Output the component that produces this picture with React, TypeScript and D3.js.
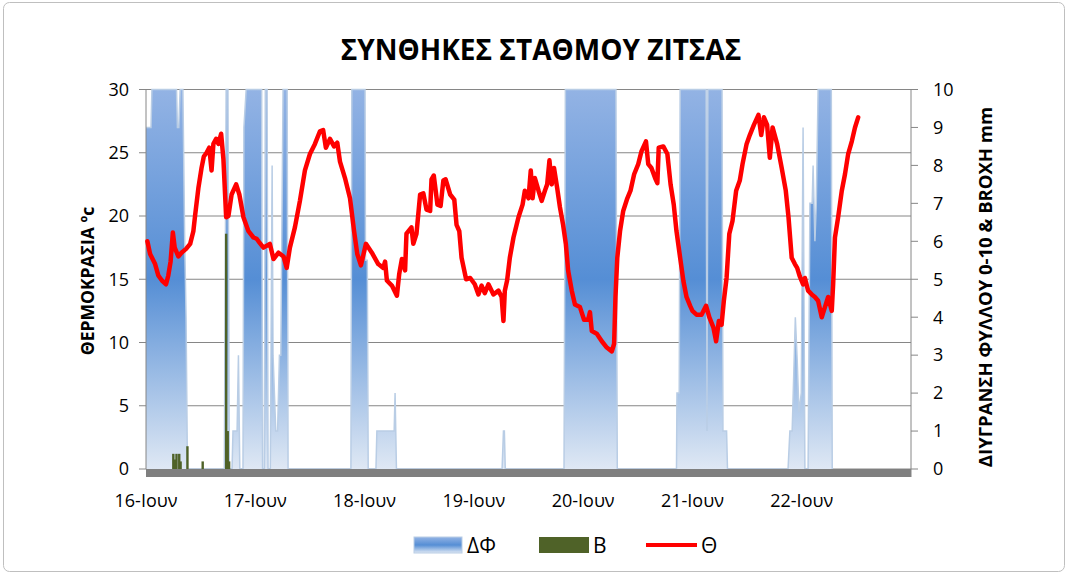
import * as d3 from "d3";

const W = 1068;
const H = 574;
const PLOT = { left: 146, right: 911, top: 89.5, bottom: 469 };
const FONT = "'Open Sans', sans-serif";

const START = new Date(2013, 5, 16);

const title = "ΣΥΝΘΗΚΕΣ ΣΤΑΘΜΟΥ ΖΙΤΣΑΣ";
const leftTitle = "ΘΕΡΜΟΚΡΑΣΙΑ ºc";
const rightTitle = "ΔΙΥΓΡΑΝΣΗ ΦΥΛΛΟΥ 0-10 & BROXH mm";
const dayLabels = ["16-Ιουν", "17-Ιουν", "18-Ιουν", "19-Ιουν", "20-Ιουν", "21-Ιουν", "22-Ιουν"];
const tempTicks = [0, 5, 10, 15, 20, 25, 30];
const wetTicks = [0, 1, 2, 3, 4, 5, 6, 7, 8, 9, 10];

// [hours since 16-Ιουν 00:00, °C]
const temperature: [number, number][] = [
  [0.3, 18.0], [0.9, 17.0], [2.0, 16.2], [2.7, 15.3], [3.5, 14.9], [4.4, 14.6], [4.9, 15.3],
  [5.4, 16.4], [5.9, 18.7], [6.3, 17.5], [7.1, 16.8], [7.8, 17.1], [8.8, 17.4], [9.7, 17.8],
  [10.4, 18.8], [10.8, 20.1], [11.5, 22.2], [12.2, 23.8], [12.7, 24.7], [13.3, 25.0], [13.9, 25.4],
  [14.4, 23.6], [14.8, 25.7], [15.4, 26.1], [15.9, 25.7], [16.5, 26.5], [17.0, 24.5], [17.6, 19.9],
  [18.1, 20.0], [18.8, 21.7], [19.8, 22.5], [20.5, 21.7], [21.4, 19.9], [22.5, 18.8], [23.6, 18.3],
  [24.3, 18.2], [24.7, 18.0], [25.8, 17.5], [27.2, 17.8], [28.0, 16.6], [29.1, 17.1], [30.2, 16.8],
  [30.9, 15.9], [31.6, 17.5], [32.7, 19.1], [33.8, 21.2], [34.9, 23.6], [36.0, 24.9], [37.1, 25.7],
  [38.2, 26.7], [38.9, 26.8], [39.5, 25.4], [40.4, 26.1], [41.3, 25.5], [42.0, 25.8], [42.6, 24.3],
  [43.7, 23.0], [44.8, 21.4], [45.7, 18.8], [46.4, 17.0], [47.2, 16.1], [48.3, 17.8], [49.6, 17.1],
  [51.0, 16.2], [52.1, 15.9], [52.5, 16.4], [52.9, 14.9], [54.0, 14.5], [55.1, 13.7], [55.6, 15.4],
  [56.2, 16.6], [56.9, 15.7], [57.2, 18.6], [58.3, 19.1], [58.7, 17.8], [59.4, 18.6], [60.2, 21.7],
  [60.9, 21.8], [61.6, 20.5], [62.4, 20.4], [62.7, 22.9], [63.2, 23.2], [64.0, 20.9], [64.7, 20.8],
  [65.3, 22.8], [65.8, 22.9], [66.8, 21.7], [67.7, 21.3], [68.2, 19.3], [68.8, 18.8], [69.3, 16.7],
  [70.3, 15.0], [71.2, 15.1], [72.2, 14.6], [73.0, 13.8], [73.7, 14.5], [74.4, 13.9], [75.2, 14.6],
  [76.3, 13.8], [77.4, 14.1], [78.1, 13.6], [78.5, 11.7], [78.8, 14.1], [79.3, 14.9], [79.9, 16.7],
  [80.7, 18.3], [81.8, 19.9], [82.7, 20.9], [83.2, 22.0], [84.0, 21.4], [84.5, 23.6], [84.9, 21.4],
  [85.4, 23.0], [86.2, 22.0], [86.9, 21.2], [87.6, 22.0], [88.1, 22.5], [88.6, 24.4], [89.1, 22.5],
  [89.6, 23.8], [90.3, 22.2], [90.9, 20.7], [91.6, 19.3], [92.2, 17.8], [92.7, 15.7], [93.5, 14.1],
  [94.2, 13.0], [95.3, 12.8], [96.2, 11.8], [97.1, 11.8], [97.5, 12.4], [97.9, 10.9], [99.0, 10.7],
  [100.1, 10.1], [101.2, 9.6], [102.3, 9.3], [102.8, 9.9], [103.1, 13.6], [103.5, 16.7], [104.1, 18.8],
  [104.8, 20.4], [105.7, 21.4], [106.4, 22.0], [107.2, 23.3], [108.1, 24.1], [108.8, 25.1], [109.8, 25.9],
  [110.3, 24.1], [111.0, 23.8], [111.8, 23.0], [112.3, 22.6], [112.6, 25.4], [113.6, 25.5], [114.5, 24.9],
  [115.2, 22.5], [115.9, 20.9], [116.5, 18.8], [117.3, 16.7], [118.0, 14.9], [118.7, 13.6], [119.5, 12.9],
  [120.0, 12.5], [120.9, 12.2], [122.0, 12.2], [123.0, 12.9], [123.7, 12.0], [124.6, 11.2], [125.2, 10.1],
  [125.8, 11.7], [126.4, 11.4], [126.9, 13.3], [127.5, 15.1], [128.1, 18.6], [128.8, 19.6], [129.6, 22.0],
  [130.4, 22.8], [131.0, 24.1], [131.9, 25.7], [132.6, 26.4], [133.5, 27.2], [134.5, 28.0], [135.1, 26.4],
  [135.7, 27.8], [136.4, 27.2], [137.0, 24.6], [137.6, 27.0], [138.6, 25.7], [139.6, 23.8], [140.5, 22.0],
  [141.1, 19.9], [141.8, 16.7], [142.5, 16.2], [143.0, 15.9], [143.6, 15.2], [144.3, 14.6], [144.7, 15.1],
  [145.4, 14.1], [146.2, 13.8], [146.9, 13.6], [147.6, 13.3], [148.4, 12.0], [149.1, 12.8], [149.8, 13.6],
  [150.6, 12.5], [150.9, 14.6], [151.3, 18.3], [152.0, 19.9], [152.8, 22.0], [153.5, 23.3], [154.2, 24.9],
  [155.0, 25.9], [155.7, 27.0], [156.4, 27.8],
];

// [hours, leaf wetness 0-10]
const leafWetness: [number, number][] = [
  [0, 9], [1.1, 9], [1.3, 10], [6.7, 10], [6.9, 9], [7.2, 9], [7.5, 10], [8.1, 10], [8.5, 6], [8.8, 4],
  [9.1, 0], [17.2, 0], [17.6, 10], [18.0, 10], [18.3, 0], [18.9, 0], [19.1, 1], [20.0, 1], [20.3, 3],
  [20.6, 0], [21.3, 0], [21.5, 9], [22.0, 10], [25.4, 10], [25.6, 0], [26.0, 0], [26.2, 10], [26.6, 10],
  [26.8, 0], [27.3, 0], [27.7, 8], [27.9, 3], [28.5, 1], [28.9, 1], [29.3, 3], [29.6, 3], [30.1, 10],
  [31.0, 10], [31.2, 0], [45.0, 0], [45.2, 10], [48.1, 10], [48.2, 5.5], [48.6, 5.5], [48.8, 0],
  [50.5, 0], [50.7, 1], [54.5, 1], [54.7, 2], [55.0, 0], [78.2, 0], [78.5, 1], [78.7, 1], [78.9, 0],
  [91.8, 0], [92.1, 10], [103.2, 10], [103.5, 0], [116.5, 0], [116.6, 2], [117.1, 2], [117.3, 10],
  [123.0, 10], [123.2, 1], [123.4, 10], [126.5, 10], [126.7, 1], [127.5, 1], [127.7, 0], [141.0, 0],
  [141.4, 1], [141.9, 1], [142.6, 4], [143.0, 2.9], [143.4, 1.5], [143.9, 2], [144.3, 9], [144.7, 0],
  [145.4, 0], [145.8, 7], [146.3, 7], [146.5, 8], [146.9, 6], [147.2, 7], [147.6, 10], [150.5, 10],
  [150.7, 0],
];

// [hours, rain mm]
const rain: [number, number][] = [
  [6.0, 0.4], [6.4, 0.25], [6.7, 0.4], [7.3, 0.4], [7.6, 0.2], [9.1, 0.6], [12.45, 0.2],
  [17.6, 6.2], [17.95, 1.0], [18.25, 0.2],
];

const toDate = (h: number) => new Date(START.getTime() + h * 3600e3);

export default function App() {
  const x = d3.scaleTime().domain([START, toDate(168)]).range([PLOT.left, PLOT.right]);
  const yT = d3.scaleLinear().domain([0, 30]).range([PLOT.bottom, PLOT.top]);
  const yW = d3.scaleLinear().domain([0, 10]).range([PLOT.bottom, PLOT.top]);

  const days = d3.timeDay.range(START, toDate(168)).slice(0, dayLabels.length);

  const wetArea = d3
    .area<[number, number]>()
    .x((d) => x(toDate(d[0])))
    .y0(yW(0))
    .y1((d) => yW(d[1]))(leafWetness);
  const wetLine = d3
    .line<[number, number]>()
    .x((d) => x(toDate(d[0])))
    .y((d) => yW(d[1]))(leafWetness);
  const tempLine = d3
    .line<[number, number]>()
    .x((d) => x(toDate(d[0])))
    .y((d) => yT(d[1]))(temperature);

  return (
    <svg width={W} height={H} style={{ position: "absolute", left: 0, top: 0, background: "#fff" }}>
      <defs>
        <linearGradient id="wet" gradientUnits="userSpaceOnUse" x1={0} y1={PLOT.top} x2={0} y2={PLOT.bottom}>
          <stop offset="0" stopColor="#93b3e4" />
          <stop offset="0.5" stopColor="#558ed5" />
          <stop offset="1" stopColor="#dfe8f4" />
        </linearGradient>
        <linearGradient id="wetKey" x1={0} y1={0} x2={0} y2={1}>
          <stop offset="0" stopColor="#93b3e4" />
          <stop offset="0.5" stopColor="#558ed5" />
          <stop offset="1" stopColor="#dfe8f4" />
        </linearGradient>
      </defs>

      <rect x={3.5} y={2.5} width={W - 7} height={H - 5} rx={6} fill="#fff" stroke="#bfbfbf" />

      <text x={541} y={60} textAnchor="middle" fontFamily={FONT} fontWeight="bold" fontSize={28} fill="#000">
        {title}
      </text>

      {/* gridlines + left ticks */}
      {tempTicks.map((t) => (
        <g key={t}>
          <line x1={PLOT.left - 7} x2={PLOT.right} y1={yT(t)} y2={yT(t)} stroke="#868686" strokeWidth={1} />
          <text x={129} y={yT(t)} dy="0.35em" textAnchor="end" fontFamily={FONT} fontSize={18} fill="#000">
            {t}
          </text>
        </g>
      ))}

      {/* leaf wetness */}
      <path d={wetArea ?? undefined} fill="url(#wet)" />
      <path d={wetLine ?? undefined} fill="none" stroke="#b9cde5" strokeWidth={1.5} />

      {/* rain */}
      {rain.map(([h, v], i) => (
        <rect key={i} x={x(toDate(h)) - 1.2} y={yW(v)} width={2.4} height={yW(0) - yW(v)} fill="#4f6228" />
      ))}

      {/* floor */}
      <rect x={PLOT.left} y={PLOT.bottom} width={PLOT.right - PLOT.left} height={8} fill="#7f7f7f" />
      <line x1={PLOT.left} x2={PLOT.left} y1={PLOT.top} y2={PLOT.bottom} stroke="#868686" />

      {/* right axis */}
      <line x1={PLOT.right} x2={PLOT.right} y1={PLOT.top} y2={PLOT.bottom + 8} stroke="#868686" />
      {wetTicks.map((t) => (
        <g key={t}>
          <line x1={PLOT.right} x2={PLOT.right + 7} y1={yW(t)} y2={yW(t)} stroke="#868686" />
          <text x={933} y={yW(t)} dy="0.35em" fontFamily={FONT} fontSize={18} fill="#000">
            {t}
          </text>
        </g>
      ))}

      {/* temperature */}
      <path d={tempLine ?? undefined} fill="none" stroke="#ff0000" strokeWidth={4.5} strokeLinejoin="round" strokeLinecap="round" />

      {/* x labels */}
      {days.map((d, i) => (
        <text key={i} x={x(d)} y={507} textAnchor="middle" fontFamily={FONT} fontSize={18} fill="#000">
          {dayLabels[i]}
        </text>
      ))}

      {/* axis titles */}
      <text transform="translate(94,281) rotate(-90)" textAnchor="middle" fontFamily={FONT} fontWeight="bold" fontSize={17.5} fill="#000">
        {leftTitle}
      </text>
      <text transform="translate(992,287) rotate(-90)" textAnchor="middle" fontFamily={FONT} fontWeight="bold" fontSize={18.5} fill="#000">
        {rightTitle}
      </text>

      {/* legend */}
      <rect x={414} y={537} width={48} height={16} fill="url(#wetKey)" stroke="#b9cde5" />
      <text x={467} y={553} fontFamily={FONT} fontSize={21} fill="#000">ΔΦ</text>
      <rect x={539} y={537} width={50} height={16} fill="#4f6228" />
      <text x={593} y={553} fontFamily={FONT} fontSize={21} fill="#000">B</text>
      <line x1={646} x2={697} y1={545} y2={545} stroke="#ff0000" strokeWidth={4} />
      <text x={701} y={553} fontFamily={FONT} fontSize={21} fill="#000">Θ</text>
    </svg>
  );
}
